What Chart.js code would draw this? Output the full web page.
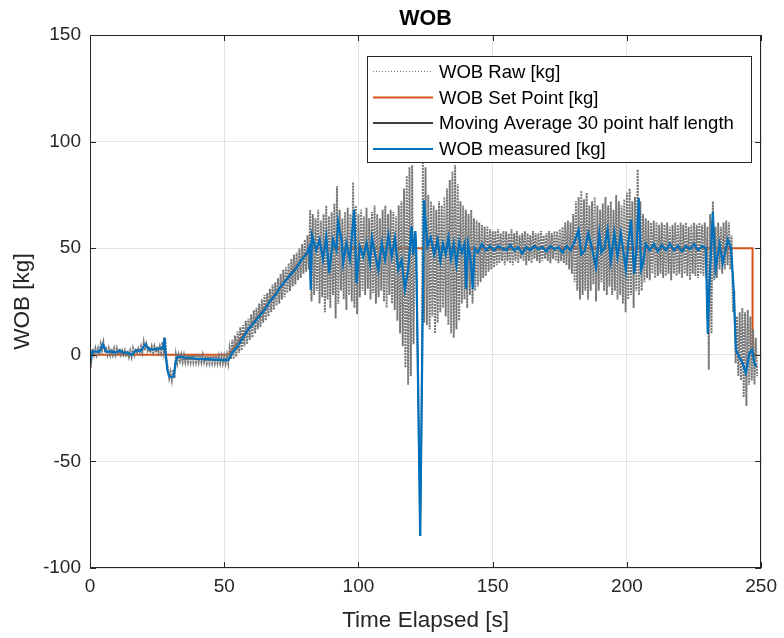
<!DOCTYPE html>
<html><head><meta charset="utf-8">
<script src="https://cdn.jsdelivr.net/npm/chart.js@4.4.1/dist/chart.umd.min.js"></script>
<style>html,body{margin:0;padding:0;background:#fff}canvas{display:block}</style>
</head><body>
<canvas id="c" width="784" height="638"></canvas>
<script>
// Axis ticks
const xTicks = [0, 50, 100, 150, 200, 250];
const yTicks = [-100, -50, 0, 50, 100, 150];

// Raw load-cell signal: upper and lower excursion for each second (t = index, s)
const rawHigh = [
  2,3,3,3,5,6,3,3,3,3,
  3,3,2,2,2,2,3,3,3,4,
  6,5,4,4,4,4,4,6,8,-6,
  -8,-7,0,0,0,0,0,0,0,0,
  0,0,0,-0.5,-0.5,-0.5,-0.5,-0.5,-0.5,-0.5,
  -0.5,0,3,7,9,11,13,14,16,17,
  19,21,22,24,26,28,29,31,33,34,
  36,38,40,41,43,45,47,48,50,52,
  54,56,68,66,64,68,63,66,70,65,
  67,71,79,68,64,67,69,66,81,70,
  66,68,65,69,64,67,70,66,64,68,
  70,66,68,67,65,70,72,78,84,88,
  89,58,4,-85,90,88,75,72,70,68,
  72,70,74,78,82,86,89,80,72,70,
  68,66,68,64,63,62,61,60,60,59,
  58,58,59,57,58,58,57,59,57,58,
  56,57,58,57,56,58,57,57,58,56,
  57,58,57,58,58,59,60,62,63,62,
  66,72,74,77,73,76,70,72,74,70,
  68,71,74,70,72,68,75,72,70,73,
  76,78,72,74,87,72,66,64,63,62,
  63,62,61,62,61,62,60,61,62,61,
  62,61,62,60,61,62,61,62,61,62,
  60,66,72,60,62,60,62,63,62,56,
  30,18,20,22,20,21,18,12,8
];
const rawLow = [
  -3,0,0,0,2,2,0,0,0,0,
  0,0,0,-1,-1,-1,0,1,1,1,
  2,2,1,1,1,1,1,1,-2,-11,
  -12,-11,-4,-3,-3.5,-3.5,-3.5,-3.5,-3.5,-3.5,
  -3.5,-3.5,-3.5,-4,-4,-4,-4,-4,-4,-4,
  -4,-4,-2,-2,-1,1,2,4,5,7,
  8,10,12,13,15,16,18,20,21,23,
  24,26,27,29,30,32,33,35,36,38,
  39,40,25,28,30,24,27,20,26,22,
  28,17,24,30,26,21,28,25,22,19,
  27,30,28,31,26,29,24,27,30,25,
  22,28,24,21,16,10,4,-6,-14,-10,
  5,45,-40,-29,15,14,12,18,10,15,
  20,22,18,14,10,8,12,16,24,26,
  22,28,24,30,32,34,36,37,39,40,
  41,42,43,44,42,44,43,42,44,43,
  45,44,42,44,43,45,44,43,44,45,
  44,43,45,44,43,44,43,42,40,38,
  34,30,26,28,30,26,30,33,25,30,
  34,30,28,32,28,30,26,28,24,20,
  26,28,22,30,28,30,34,36,35,38,
  36,37,38,36,37,38,35,38,37,38,
  36,38,37,35,38,37,36,38,37,36,
  -7,10,35,36,40,38,40,42,40,20,
  -4,-10,-12,-20,-24,-14,-12,-14,-10
];

// Commanded weight on bit
const setPointTime = [0, 51.5, 82, 246.8, 246.8, 248.2];
const setPointWob  = [0, 0, 50, 50, 0, 0];

// Filtered (measured) weight on bit
const measuredTime = [
  0,0.2,0.8,2,3.5,4.8,6,8,9.5,11,12.5,14,15.5,17,19,20.7,22,24,26,27.3,27.7,28.2,28.8,29.5,30.5,31.2,31.8,32.5,34,36,38,40,42,44,46,48,50,51.5,
  53,55,57,59,61,63,65,67,69,71,73,75,77,79,80.5,81.8,82.2,82.7,84.3,85.5,86.8,88,89.1,90.5,91.8,92.4,93.7,94.3,95.5,96.8,97.4,98.4,99.3,
  100.5,101.8,103,104.3,105,106.2,107.4,108.7,109.9,111.2,112.4,113.6,114.8,116.1,117.3,118.5,119.8,120.4,121.2,121.5,123,124.4,125.7,126.9,128.2,129.5,
  130.5,131.5,132.5,133.5,134.5,135.5,136.5,137.5,138.5,139.5,140.1,140.8,141.6,142.6,143.3,144.5,146,147.5,149,150.5,152,153.5,155,156.5,158,159.5,
  161,162.5,164,165.5,167,168.5,170,171.5,173,174.5,176,177.5,179,180.5,182,183,184.3,185.6,187,188.5,189.7,190.5,191.6,192.8,194,195.3,196.5,197.7,198.5,199.6,
  200.5,201.5,202.7,203.6,204.4,205.3,206,207,208.5,210,211.5,213,214.5,216,217.5,219,220.5,222,223.5,225,226.5,228,229.4,230.1,230.7,232,233,234.5,235.7,237.6,238.8,239.7,
  240.6,241.8,243.1,244.3,245.6,246.6,247.5,248.1
];
const measuredWob = [
  1,-3,1.5,1.5,1.5,5,1.5,1.5,1,2,1,1,0,2,2,5,2.5,2.5,3,3,8,0,-7,-10,-10.5,-10,-4,-1,-1,-1.5,-1.5,-2,-2,-2,-2.3,-2.3,-2.5,-2.5,
  1,4,8,12,15,18,21,25,28,32,35,38,41,45,47,50.8,30.5,56,49,54,44.5,55.5,38.3,54,49,62.5,54,43,52.4,44.5,53,68,33.6,
  50.8,46,52.4,43,55,47,39.8,52.4,44.5,56,46,55,39.8,44.5,30.5,39.8,60.2,47,58,50,-85,72.6,50.8,55,47,54,
  44,52,47,55,45,52,42,53,48,52,31,52,47,31,50,48,52,49,51,49,51,50,49,51.5,49,50.5,
  47.5,50.5,49,51,49.5,50.5,48.5,51,49.5,50.5,48,51,49,53,58.6,47,49,57,50,41,57,48,50,58.6,44,57,46,57,50,39.8,
  52,63.3,38,50,73.4,40,43,52,49,52,48.5,51.5,49,52,49,51,48.5,51,49.5,52,49,51,50,10,32,67,40,52,43,54,50,32,
  2.4,-0.8,-3.9,-8.6,0.8,2.4,-3.9,-5.5
];

const legendLabels = ['WOB Raw [kg]', 'WOB Set Point [kg]', 'Moving Average 30 point half length', 'WOB measured [kg]'];
const seriesColors = ['rgb(118,118,118)', '#D95319', '#000000', '#0072BD'];

const FONT = '"Liberation Sans", Arial, Helvetica, sans-serif';
const INK = '#262626';

const rawPoints = [];
rawHigh.forEach((v, i) => {
  rawPoints.push({ x: i, y: v });
  rawPoints.push({ x: i + 0.5, y: rawLow[i] });
});
const zipXY = (xs, ys) => xs.map((x, i) => ({ x, y: ys[i] }));

// Title, axis labels, box, inward ticks and legend in the MATLAB figure style
const figureDecor = {
  id: 'figureDecor',
  beforeDraw(chart) {
    const c = chart.ctx;
    c.save();
    c.fillStyle = '#fff';
    c.fillRect(0, 0, chart.width, chart.height);
    c.restore();
  },
  afterDraw(chart) {
    const c = chart.ctx;
    const a = chart.chartArea;
    const xs = chart.scales.x, ys = chart.scales.y;
    c.save();
    // axes box
    c.strokeStyle = INK;
    c.lineWidth = 1;
    c.strokeRect(Math.round(a.left) + 0.5, Math.round(a.top) + 0.5,
                 Math.round(a.right - a.left) - 1, Math.round(a.bottom - a.top) - 1);
    // inward tick marks on all four sides
    const tl = 6;
    c.beginPath();
    xTicks.forEach(v => {
      const px = Math.round(xs.getPixelForValue(v)) + 0.5;
      c.moveTo(px, a.bottom); c.lineTo(px, a.bottom - tl);
      c.moveTo(px, a.top); c.lineTo(px, a.top + tl);
    });
    yTicks.forEach(v => {
      const py = Math.round(ys.getPixelForValue(v)) + 0.5;
      c.moveTo(a.left, py); c.lineTo(a.left + tl, py);
      c.moveTo(a.right, py); c.lineTo(a.right - tl, py);
    });
    c.stroke();

    // title
    c.fillStyle = '#000';
    c.textAlign = 'center';
    c.textBaseline = 'middle';
    c.font = 'bold 21.5px ' + FONT;
    c.fillText('WOB', (a.left + a.right) / 2, 19);
    // axis titles
    c.fillStyle = INK;
    c.font = '22.5px ' + FONT;
    c.fillText('Time Elapsed [s]', (a.left + a.right) / 2, 621);
    c.save();
    c.translate(23, (a.top + a.bottom) / 2);
    c.rotate(-Math.PI / 2);
    c.fillText('WOB [kg]', 0, 0);
    c.restore();

    // legend
    const lx = 367.5, ly = 56.5, lw = 384, lh = 106;
    c.fillStyle = '#fff';
    c.fillRect(lx, ly, lw, lh);
    c.strokeStyle = INK;
    c.lineWidth = 1;
    c.strokeRect(lx, ly, lw, lh);
    const rows = [71.5, 97.5, 123, 149];
    c.font = '18.5px ' + FONT;
    c.textAlign = 'left';
    legendLabels.forEach((lab, i) => {
      const y = rows[i];
      c.beginPath();
      c.strokeStyle = seriesColors[i];
      c.lineWidth = i === 0 ? 1 : (i === 2 ? 1.5 : 2);
      c.setLineDash(i === 0 ? [1, 2] : []);
      c.moveTo(373, y); c.lineTo(433, y);
      c.stroke();
      c.setLineDash([]);
      c.fillStyle = '#000';
      c.fillText(lab, 439, y + 1);
    });
    c.restore();
  }
};

new Chart(document.getElementById('c'), {
  type: 'line',
  data: {
    datasets: [
      { label: legendLabels[0], data: rawPoints, borderColor: seriesColors[0], borderWidth: 1.9,
        borderDash: [2, 1], pointRadius: 0, order: 3 },
      { label: legendLabels[1], data: zipXY(setPointTime, setPointWob), borderColor: seriesColors[1],
        borderWidth: 2, pointRadius: 0, order: 4 },
      { label: legendLabels[2], data: zipXY(measuredTime, measuredWob), borderColor: seriesColors[2],
        borderWidth: 1, pointRadius: 0, order: 2 },
      { label: legendLabels[3], data: zipXY(measuredTime, measuredWob), borderColor: seriesColors[3],
        borderWidth: 2.2, pointRadius: 0, order: 1 }
    ]
  },
  options: {
    responsive: false,
    animation: false,
    devicePixelRatio: 1,
    events: [],
    layout: { padding: { top: 35, right: 22, left: 0, bottom: 0 } },
    elements: { line: { tension: 0, fill: false } },
    plugins: { legend: { display: false }, title: { display: false }, tooltip: { enabled: false } },
    scales: {
      x: {
        type: 'linear', min: 0, max: 250,
        afterBuildTicks: s => { s.ticks = xTicks.map(v => ({ value: v })); },
        afterFit: s => { s.height = 70; },
        grid: { color: '#e3e3e3', drawTicks: false },
        border: { display: false },
        ticks: { padding: 7, color: INK, font: { family: FONT, size: 19 }, maxRotation: 0, autoSkip: false }
      },
      y: {
        type: 'linear', min: -100, max: 150,
        afterBuildTicks: s => { s.ticks = yTicks.map(v => ({ value: v })); },
        afterFit: s => { s.width = 90; },
        grid: { color: '#e3e3e3', drawTicks: false },
        border: { display: false },
        ticks: { padding: 9, color: INK, font: { family: FONT, size: 19 }, autoSkip: false }
      }
    }
  },
  plugins: [figureDecor]
});
</script>
</body></html>
